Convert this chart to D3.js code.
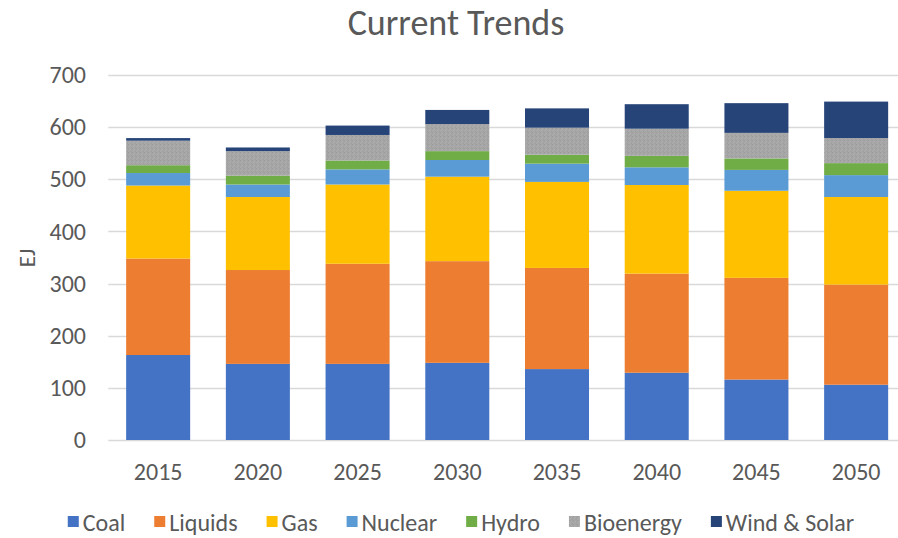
<!DOCTYPE html>
<html>
<head>
<meta charset="utf-8">
<script src="https://cdn.jsdelivr.net/npm/d3@7/dist/d3.min.js"></script>
<style>
  html, body { margin: 0; padding: 0; background: #fff; }
  svg { display: block; }
  svg text { font-family: Carlito, Lato, "Open Sans", sans-serif; }
</style>
</head>
<body>
<svg id="chart" width="898" height="538"></svg>
<script>
// Primary energy demand by source, EJ
const years = ["2015", "2020", "2025", "2030", "2035", "2040", "2045", "2050"];
const sources = ["Coal", "Liquids", "Gas", "Nuclear", "Hydro", "Bioenergy", "Wind & Solar"];
const coal       = [163, 146, 146, 148, 136, 129, 116, 106];
const liquids    = [185, 180, 192, 195, 194, 190, 195, 192];
const gas        = [140, 140, 152, 162, 165, 170, 167, 168];
const nuclear    = [24, 24, 29, 32, 35, 34, 40, 42];
const hydro      = [15, 17, 17, 17, 17, 22, 22, 23];
const bioenergy  = [47, 47, 49, 52, 52, 52, 49, 48];
const windSolar  = [5, 7, 18, 27, 37, 47, 57, 70];
const yTicks = [0, 100, 200, 300, 400, 500, 600, 700];

const seriesValues = [coal, liquids, gas, nuclear, hydro, bioenergy, windSolar];
const colors = ["#4472C4", "#ED7D31", "#FFC000", "#5B9BD5", "#70AD47", "url(#bioTexture)", "#264478"];

const rows = years.map((yr, i) => {
  const r = { year: yr };
  sources.forEach((s, k) => { r[s] = seriesValues[k][i]; });
  return r;
});

const svg = d3.select("#chart");
const textColor = "#595959";

// fine speckled grey fill for bioenergy
const defs = svg.append("defs");
const pat = defs.append("pattern")
  .attr("id", "bioTexture").attr("patternUnits", "userSpaceOnUse")
  .attr("width", 4).attr("height", 4);
pat.append("rect").attr("width", 4).attr("height", 4).attr("fill", "#A6A6A6");
[[0,0,"#9c9c9c"],[2,1,"#afafaf"],[1,2,"#adadad"],[3,3,"#9e9e9e"],[3,1,"#a0a0a0"],[0,3,"#ababab"]]
  .forEach(([x, y, c]) => pat.append("rect").attr("x", x).attr("y", y).attr("width", 1).attr("height", 1).attr("fill", c));

const plotLeft = 108.3, plotRight = 906, plotTop = 75, plotBottom = 440;

const x = d3.scaleBand().domain(years).range([plotLeft, plotRight])
  .paddingInner(0.358).paddingOuter(0.179);
const y = d3.scaleLinear().domain([0, 700]).range([plotBottom, plotTop]);

// gridlines
svg.append("g").selectAll("line").data(yTicks).join("line")
  .attr("x1", plotLeft).attr("x2", plotRight)
  .attr("y1", d => Math.round(y(d)) + 0.5).attr("y2", d => Math.round(y(d)) + 0.5)
  .attr("stroke", "#D9D9D9").attr("stroke-width", 1.3);

// stacked bars
const stack = d3.stack().keys(sources)(rows);
svg.append("g").selectAll("g").data(stack).join("g")
  .attr("fill", (d, i) => colors[i])
  .selectAll("rect").data(d => d).join("rect")
  .attr("x", d => x(d.data.year))
  .attr("width", x.bandwidth())
  .attr("y", d => y(d[1]))
  .attr("height", d => y(d[0]) - y(d[1]));

// y axis labels
const yAxis = svg.append("g").attr("transform", "translate(86,0)")
  .call(d3.axisLeft(y).tickValues(yTicks).tickSize(0).tickPadding(0));
yAxis.attr("font-family", null).attr("font-size", null);
yAxis.select(".domain").remove();
yAxis.selectAll("text").attr("fill", textColor).style("font-size", "24px");

// x axis labels
const xAxis = svg.append("g").attr("transform", `translate(0,${plotBottom})`)
  .call(d3.axisBottom(x).tickSize(0).tickPadding(0));
xAxis.attr("font-family", null).attr("font-size", null);
xAxis.select(".domain").remove();
xAxis.selectAll("text").attr("fill", textColor).style("font-size", "24px")
  .attr("dy", null).attr("y", 40);

// title
svg.append("text").attr("x", 456).attr("y", 35).attr("text-anchor", "middle")
  .attr("fill", textColor).style("font-size", "36px").text("Current Trends");

// y axis title
svg.append("text").attr("transform", "translate(35,258) rotate(-90)")
  .attr("text-anchor", "middle").attr("fill", textColor)
  .style("font-size", "23px").text("EJ");

// legend
const legend = svg.append("g");
const items = legend.selectAll("g").data(sources).join("g");
items.append("rect").attr("width", 11).attr("height", 11).attr("y", 516)
  .attr("fill", (d, i) => colors[i]);
items.append("text").attr("x", 15).attr("y", 531).attr("fill", textColor)
  .style("font-size", "24px").text(d => d);
const gap = 29;
let cx = 0;
const offsets = [];
items.each(function () {
  const w = 15 + d3.select(this).select("text").node().getComputedTextLength();
  offsets.push(cx);
  cx += w + gap;
});
const total = cx - gap;
const startX = 461 - total / 2;
items.attr("transform", (d, i) => `translate(${startX + offsets[i]},0)`);
</script>
</body>
</html>
